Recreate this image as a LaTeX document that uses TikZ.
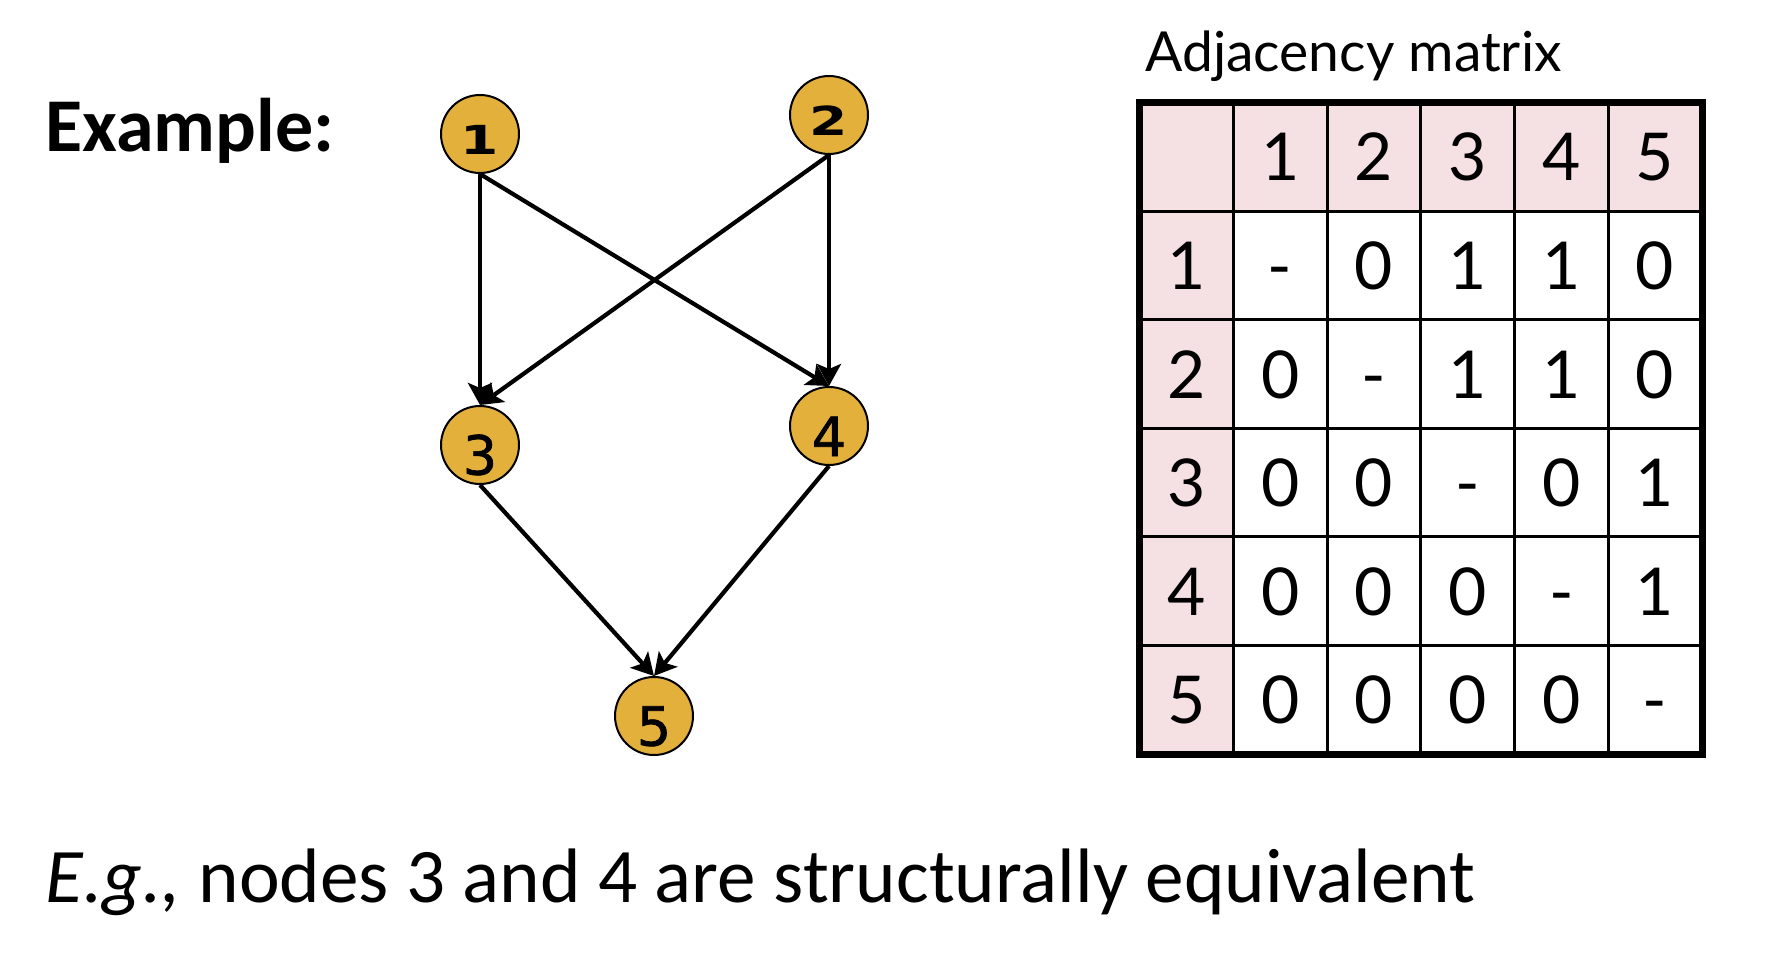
\documentclass[tikz,border=0pt]{standalone}
\usepackage{fontspec}
\usepackage{graphicx}
\setmainfont{Carlito}
\newfontfamily\latofont{Lato}
\newfontfamily\dvfont{DejaVu Sans}
\newfontfamily\dvsemi[FakeBold=1.3]{DejaVu Sans}
\usetikzlibrary{arrows.meta,matrix}
\definecolor{gold}{RGB}{228,176,60}
\definecolor{pinkcell}{RGB}{245,224,228}
\begin{document}
\begin{tikzpicture}[x=0.5pt,y=-0.5pt,
  gnode/.style={circle, draw, line width=1pt, fill=gold, minimum size=39pt, inner sep=0pt},
  topdigit/.style={font=\dvfont\bfseries\fontsize{25}{25}\selectfont, text height=21pt},
  lowdigit/.style={font=\dvsemi\fontsize{27}{27}\selectfont, text height=30pt},
  edge/.style={line width=2.1pt, -{Stealth[length=11pt,width=12pt,inset=2.5pt]}},
  inline/.style={line width=1.5pt},
  outline/.style={line width=3.5pt},
  txt/.style={anchor=base west, inner sep=0pt}]
\useasboundingbox (0,0) rectangle (1783,968);

% graph nodes
\node[gnode, topdigit] (n1) at (480,134) {\scalebox{1.1}[0.8]{1}};
\node[gnode, topdigit] (n2) at (829,115) {\scalebox{1.1}[0.8]{2}};
\node[gnode, lowdigit] (n3) at (480,445) {3};
\node[gnode, lowdigit] (n4) at (829,426) {4};
\node[gnode, lowdigit] (n5) at (654,716) {5};

% edges
\draw[edge] (n1.south) -- (n3.north);
\draw[edge] (n1.south) -- (n4.north);
\draw[edge] (n2.south) -- (n3.north);
\draw[edge] (n2.south) -- (n4.north);
\draw[edge] (n3.south) -- (n5.north);
\draw[edge] (n4.south) -- (n5.north);

% texts
\node[txt, font=\bfseries\fontsize{38}{38}\selectfont] (title) at (45,152) {Example:};
\node[txt, font=\latofont\fontsize{27.6}{27.6}\selectfont] (mtitle) at (1145,72) {Adjacency matrix};
\node[txt, font=\fontsize{38.6}{38.6}\selectfont] (note) at (45,902) {\textit{E.g.,} nodes 3 and 4 are structurally equivalent};

% adjacency matrix
\matrix (adj) [matrix of nodes, nodes in empty cells, matrix anchor=north west,
  inner sep=0pt, outer sep=0pt, column sep=0pt, row sep=0pt,
  nodes={minimum width=46.875pt, minimum height=54.3pt, inner sep=0pt, outer sep=0pt,
    anchor=center, text height=24pt, text depth=0pt, font=\latofont\fontsize{33}{33}\selectfont},
  row 1/.style={nodes={fill=pinkcell}}, column 1/.style={nodes={fill=pinkcell}}]
  at (1139.5,102.5) {
    & 1 & 2 & 3 & 4 & 5 \\
  1 & - & 0 & 1 & 1 & 0 \\
  2 & 0 & - & 1 & 1 & 0 \\
  3 & 0 & 0 & - & 0 & 1 \\
  4 & 0 & 0 & 0 & - & 1 \\
  5 & 0 & 0 & 0 & 0 & - \\
};
\foreach \c in {1,...,5} \draw[inline] (adj-1-\c.north east) -- (adj-6-\c.south east);
\foreach \r in {1,...,5} \draw[inline] (adj-\r-1.south west) -- (adj-\r-6.south east);
\draw[outline] (adj.north west) rectangle (adj.south east);
\end{tikzpicture}
\end{document}
